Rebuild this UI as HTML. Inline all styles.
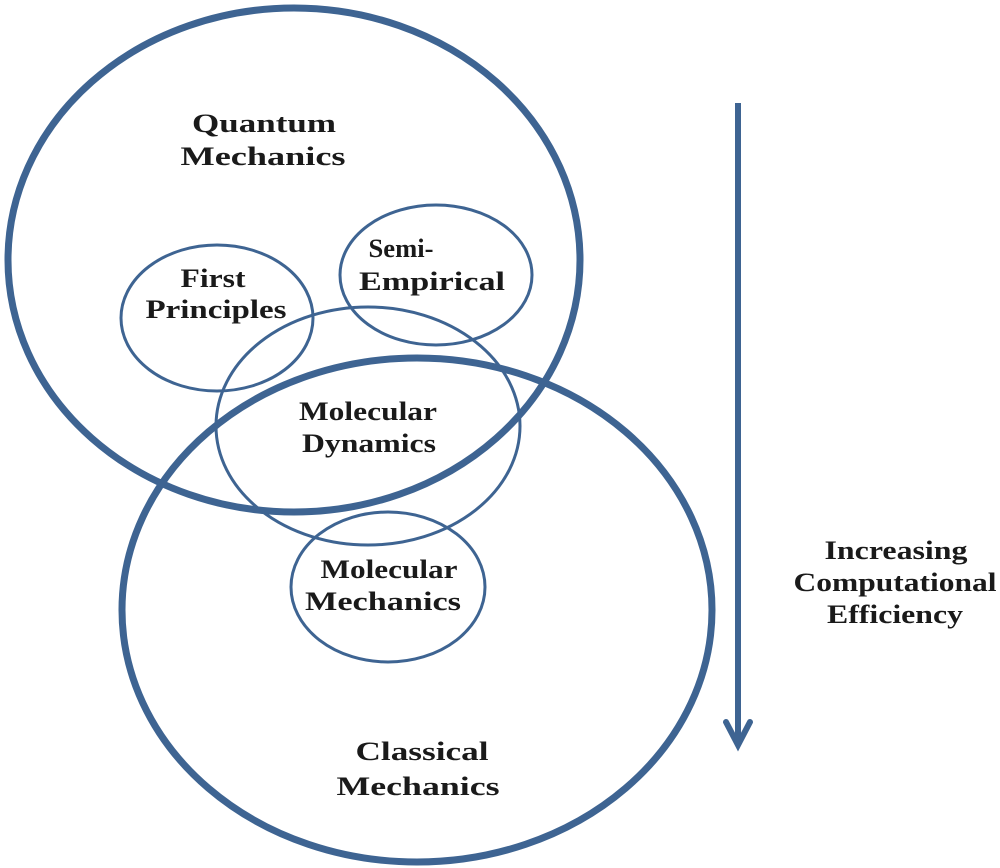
<!DOCTYPE html>
<html><head><meta charset="utf-8"><style>
html,body{margin:0;padding:0;background:#fff;}
svg{display:block;}
text{font-family:"Liberation Serif",serif;font-weight:bold;font-size:26px;fill:#1a1a1a;text-anchor:middle;}
</style></head><body>
<svg width="1000" height="868" viewBox="0 0 1000 868">
<g fill="none" stroke="#3e6492">
<ellipse cx="294" cy="260" rx="286" ry="252" stroke-width="7"/>
<ellipse cx="417" cy="610" rx="295" ry="252" stroke-width="7"/>
<ellipse cx="217" cy="318" rx="96" ry="73" stroke-width="3"/>
<ellipse cx="436" cy="275" rx="96" ry="70" stroke-width="3"/>
<ellipse cx="368" cy="426" rx="152" ry="119" stroke-width="3"/>
<ellipse cx="388" cy="587" rx="97" ry="75" stroke-width="3"/>
<line x1="738" y1="103" x2="738" y2="744" stroke-width="6"/>
<polyline points="726,722 738,745 750,722" stroke-width="6" stroke-linecap="round"/>
</g>
<g lengthAdjust="spacingAndGlyphs">
<text x="264" y="132" textLength="144" lengthAdjust="spacingAndGlyphs">Quantum</text>
<text x="263" y="165" textLength="165" lengthAdjust="spacingAndGlyphs">Mechanics</text>
<text x="213" y="287" textLength="65" lengthAdjust="spacingAndGlyphs">First</text>
<text x="216" y="318" textLength="141" lengthAdjust="spacingAndGlyphs">Principles</text>
<text x="401" y="257" textLength="65" lengthAdjust="spacingAndGlyphs">Semi-</text>
<text x="432" y="290" textLength="146" lengthAdjust="spacingAndGlyphs">Empirical</text>
<text x="368" y="420" textLength="138" lengthAdjust="spacingAndGlyphs">Molecular</text>
<text x="369" y="452" textLength="134" lengthAdjust="spacingAndGlyphs">Dynamics</text>
<text x="389" y="578" textLength="137" lengthAdjust="spacingAndGlyphs">Molecular</text>
<text x="383" y="610" textLength="156" lengthAdjust="spacingAndGlyphs">Mechanics</text>
<text x="422" y="760" textLength="133" lengthAdjust="spacingAndGlyphs">Classical</text>
<text x="418" y="795" textLength="163" lengthAdjust="spacingAndGlyphs">Mechanics</text>
<text x="896" y="559" textLength="143" lengthAdjust="spacingAndGlyphs">Increasing</text>
<text x="895" y="591" textLength="203" lengthAdjust="spacingAndGlyphs">Computational</text>
<text x="895" y="623" textLength="136" lengthAdjust="spacingAndGlyphs">Efficiency</text>
</g>
</svg>
</body></html>
